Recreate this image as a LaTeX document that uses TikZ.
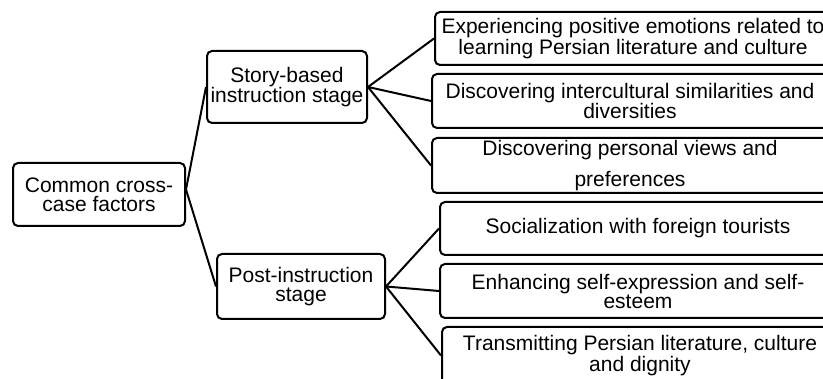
\documentclass[tikz,border=0pt]{standalone}
\usepackage{fontspec}
\setmainfont{Liberation Sans}
\begin{document}
\begin{tikzpicture}[x=1pt,y=-1pt,
  box/.style={draw,line width=2pt,rounded corners=5pt,align=center,inner sep=1pt,
    font=\fontsize{21}{19}\selectfont},
  leaf/.style={box,minimum width=396pt,minimum height=54pt},
  link/.style={line width=2pt}]
\useasboundingbox (0,0) rectangle (823,379);
\clip (0,0) rectangle (823,379);

\node[box,minimum width=172pt,minimum height=63pt] (root) at (99,194.5) {Common cross-\\case factors};
\node[box,minimum width=160pt,minimum height=72pt] (story) at (287,87) {Story-based\\instruction stage};
\node[box,minimum width=168pt,minimum height=65pt] (post) at (301,286.5) {Post-instruction\\stage};

\node[leaf,minimum height=53pt] (emo) at (633,38.5) {Experiencing positive emotions related to\\learning Persian literature and culture};
\node[leaf] (sim) at (630,101) {Discovering intercultural similarities and\\diversities};
\node[leaf,minimum height=55pt] (view) at (630,165.5) {Discovering personal views and\\[11pt]preferences};
\node[leaf,minimum height=53pt] (tour) at (638,228.5) {Socialization with foreign tourists};
\node[leaf] (self) at (638,291) {Enhancing self-expression and self-\\esteem};
\node[leaf,minimum height=57pt] (trans) at (640,355.5) {Transmitting Persian literature, culture\\and dignity};

\draw[link] ([yshift=5pt]root.east) -- (story.west);
\draw[link] ([yshift=5pt]root.east) -- (post.west);
\draw[link] (story.east) -- (emo.west);
\draw[link] (story.east) -- (sim.west);
\draw[link] (story.east) -- (view.west);
\draw[link] (post.east) -- (tour.west);
\draw[link] (post.east) -- (self.west);
\draw[link] (post.east) -- (trans.west);
\end{tikzpicture}
\end{document}
